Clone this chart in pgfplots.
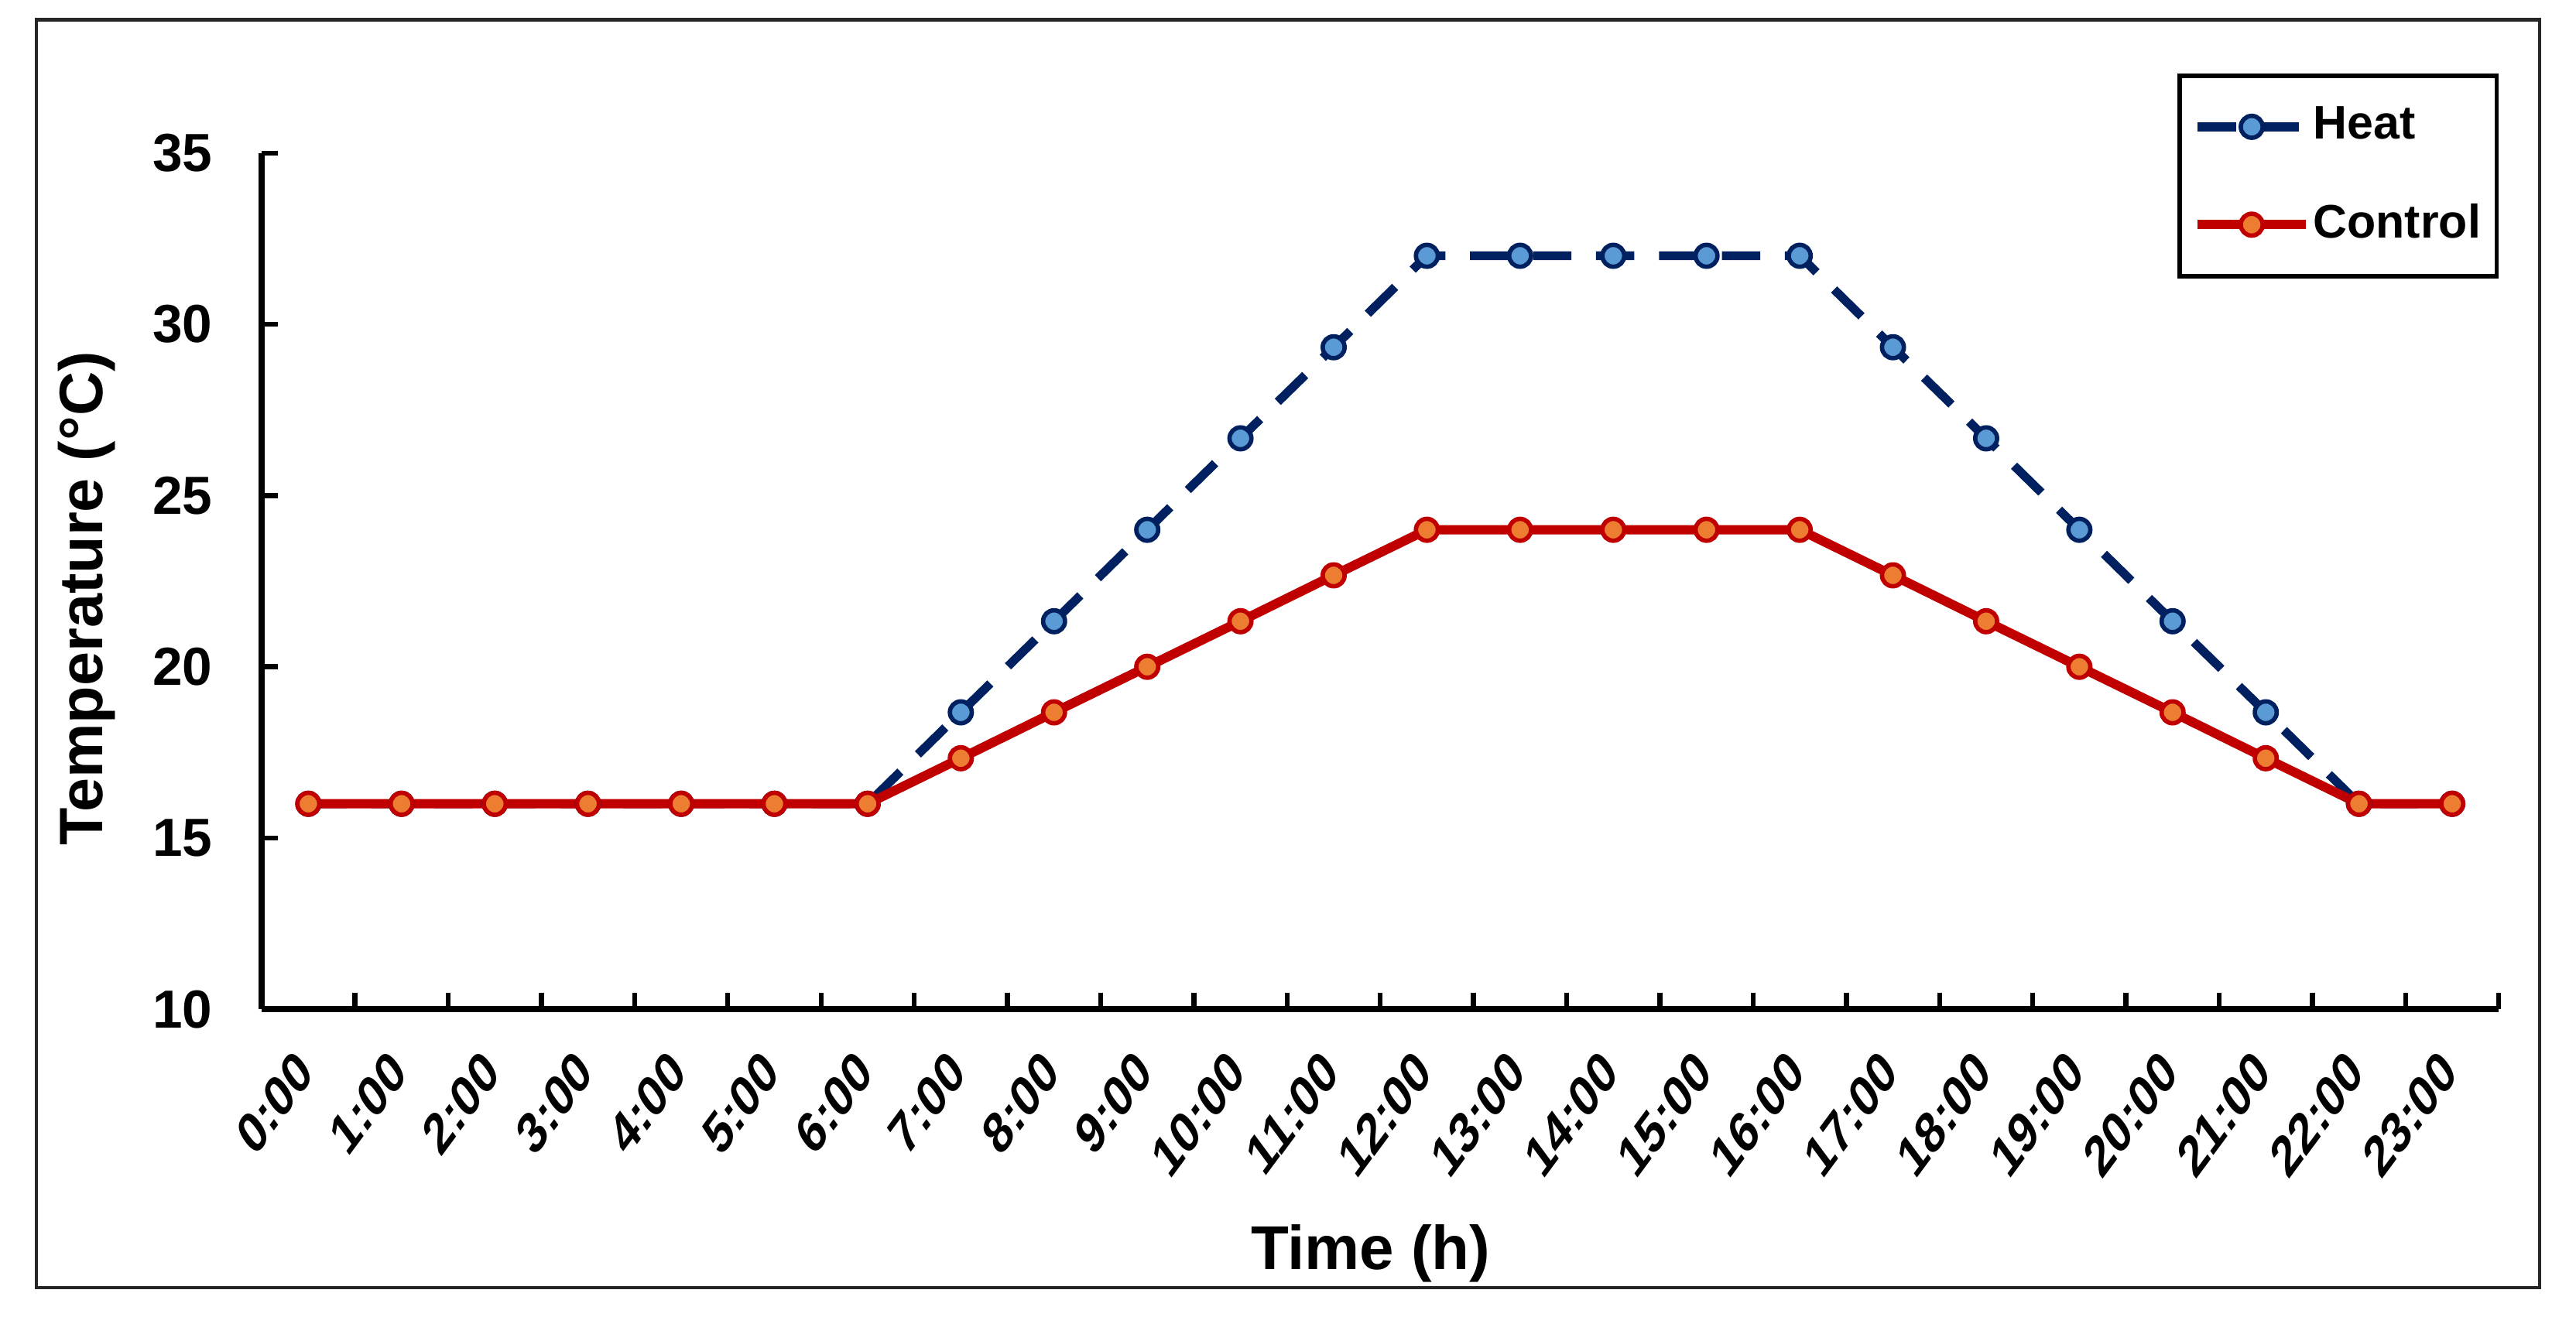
\documentclass[border=0pt]{standalone}
\usepackage{pgfplots}
\pgfplotsset{compat=1.18}
\usepackage{fontspec}
\setmainfont{Liberation Sans}

\definecolor{heatline}{RGB}{0,32,96}
\definecolor{heatfill}{RGB}{91,155,213}
\definecolor{ctrlline}{RGB}{192,0,0}
\definecolor{ctrlfill}{RGB}{237,125,49}

\begin{document}
\begin{tikzpicture}
% page size, taken from the reference proportions
\path[use as bounding box] (-47.8pt,-57.4pt) rectangle (422.6pt,184.35pt);
\begin{axis}[
    scale only axis,
    width=408.5pt, height=156.4pt,
    xmin=-0.5, xmax=23.5,
    ymin=10, ymax=35,
    axis x line*=bottom, axis y line*=left,
    axis line style={black, line width=1.1pt},
    tick align=inside,
    major tick length=3pt,
    tick style={black, line width=0.9pt},
    % tick marks sit between the hours, labels are moved to the hour
    xtick={-0.5,0.5,...,23.5},
    xticklabels={0:00,1:00,2:00,3:00,4:00,5:00,6:00,7:00,8:00,9:00,10:00,11:00,
                 12:00,13:00,14:00,15:00,16:00,17:00,18:00,19:00,20:00,21:00,22:00,23:00,{}},
    ytick={10,15,...,35},
    /pgf/number format/assume math mode=true,
    tick label style={font=\bfseries\fontsize{9.8}{11}\selectfont},
    xticklabel style={font=\bfseries\fontsize{10.6}{12}\selectfont, inner sep=0pt,
                      xshift=8.0pt, yshift=-9.4pt, xscale=0.74, rotate=45, anchor=east},
    yticklabel style={inner sep=0pt, anchor=east, xshift=-8.8pt},
    xlabel={Time (h)},
    xlabel style={at={(axis description cs:0.4957,-0.304)}, anchor=base,
                  font=\bfseries\fontsize{11.3}{13}\selectfont},
    ylabel={Temperature (°C)},
    ylabel style={at={(axis description cs:-0.071,0.48)}, anchor=base,
                  font=\bfseries\fontsize{11.2}{13}\selectfont},
    clip=false,
    legend cell align=left,
    legend image code/.code={
        \draw[mark repeat=2, mark phase=2] plot coordinates {(0pt,0pt) (9.9pt,0pt) (19.8pt,0pt)};
    },
    legend style={
        at={(1,1.0927)}, anchor=north east,
        draw=black, line width=0.8pt,
        inner xsep=2.4pt, inner ysep=5.1pt,
        row sep=9.3pt,
        nodes={inner sep=0.5pt},
        font=\bfseries\fontsize{8.6}{10}\selectfont,
        /tikz/every even column/.append style={column sep=0.5pt},
    },
]

% Heat
\addplot[
    heatline, line width=1.6pt, line join=round,
    dash pattern=on 7pt off 4.5pt,
    mark=*, mark size=2pt,
    mark options={solid, draw=heatline, fill=heatfill, line width=0.8pt}
] coordinates {
    (0,16) (1,16) (2,16) (3,16) (4,16) (5,16) (6,16)
    (7,18.67) (8,21.33) (9,24) (10,26.67) (11,29.33)
    (12,32) (13,32) (14,32) (15,32) (16,32)
    (17,29.33) (18,26.67) (19,24) (20,21.33) (21,18.67)
    (22,16) (23,16)
};
\addlegendentry{Heat}

% Control
\addplot[
    ctrlline, line width=1.7pt, line join=round,
    mark=*, mark size=2pt,
    mark options={draw=ctrlline, fill=ctrlfill, line width=0.8pt}
] coordinates {
    (0,16) (1,16) (2,16) (3,16) (4,16) (5,16) (6,16)
    (7,17.33) (8,18.67) (9,20) (10,21.33) (11,22.67)
    (12,24) (13,24) (14,24) (15,24) (16,24)
    (17,22.67) (18,21.33) (19,20) (20,18.67) (21,17.33)
    (22,16) (23,16)
};
\addlegendentry{Control}

\end{axis}
% outer frame
\draw[black!85, line width=0.6pt] (-41.2pt,-50.85pt) rectangle (415.9pt,180.75pt);
\end{tikzpicture}
\end{document}
